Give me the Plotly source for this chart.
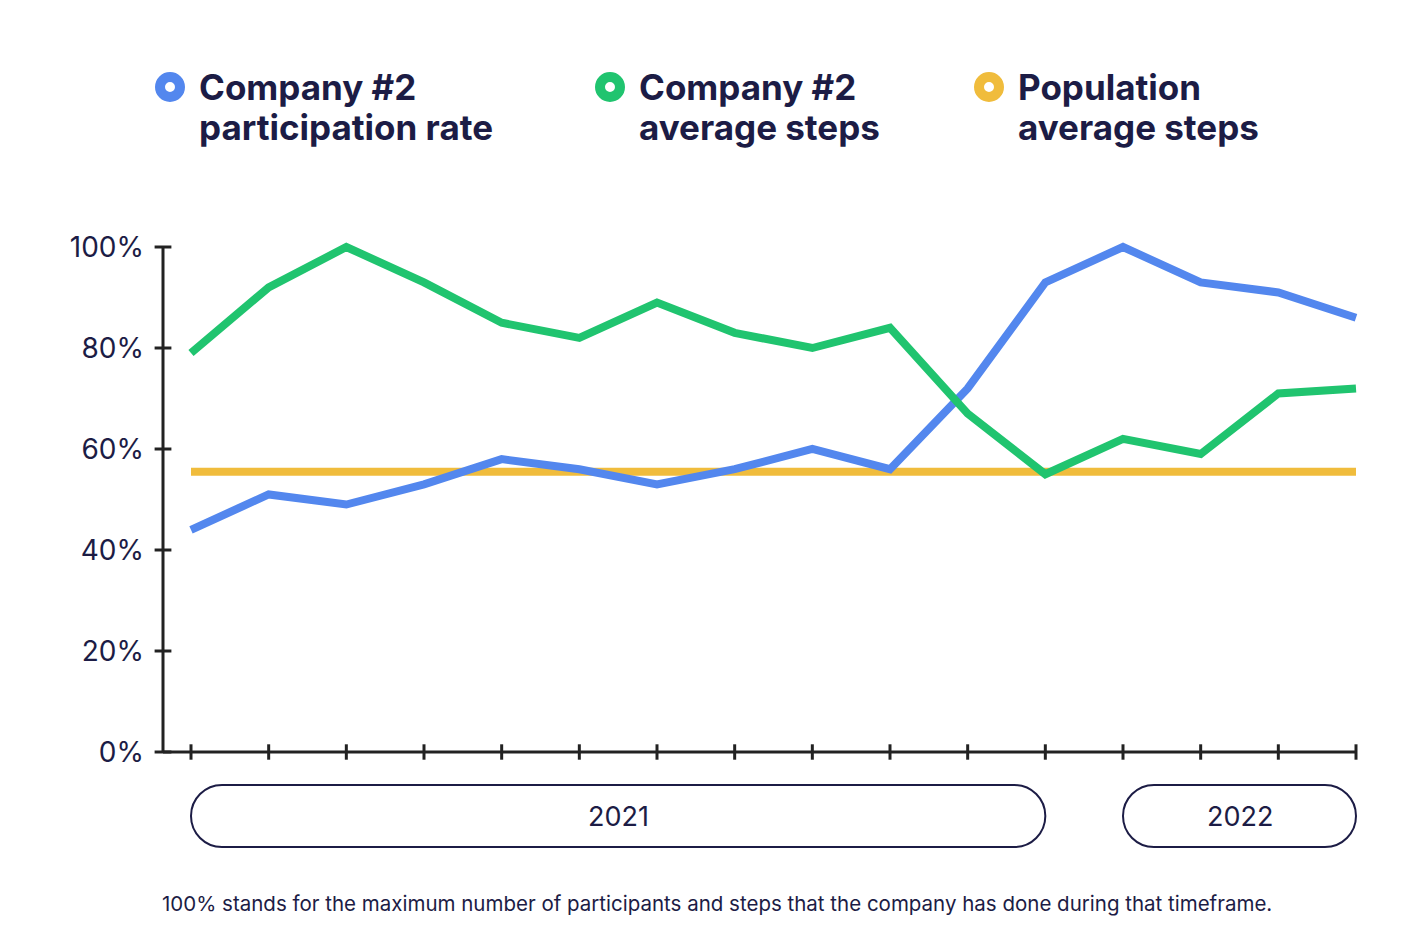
import plotly.graph_objects as go

# ---- data ----
periods = list(range(16))
participation = [44, 51, 49, 53, 58, 56, 53, 56, 60, 56, 72, 93, 100, 93, 91, 86]
company_steps = [79, 92, 100, 93, 85, 82, 89, 83, 80, 84, 67, 55, 62, 59, 71, 72]
population_steps = [55.5] * 16
y_ticks = [0, 20, 40, 60, 80, 100]
y_labels = ["0%", "20%", "40%", "60%", "80%", "100%"]
years = ["2021", "2022"]
year_spans = [(0, 11), (12, 15)]
legend_lines = [("Company #2", "participation rate"), ("Company #2", "average steps"), ("Population", "average steps")]
footer = "100% stands for the maximum number of participants and steps that the company has done during that timeframe."

BLUE = "#5387ee"
GREEN = "#20c46f"
YELLOW = "#f0bc3c"
NAVY = "#1c1c45"
AXIS = "#222222"
FONT = "Inter"

OFF = 8   # page offset
PAD = 12  # extra pixels around the axes so axis lines / pills are not clipped
W, H = 1414 - OFF, 943 - OFF
UX = 77.67          # px per period
UY = 5.05           # px per percent
XAX = 163           # y-axis line (screen px)
X0 = 191            # first period (screen px)
XMIN = (XAX - X0) / UX
XMAX = 15
L = XAX - OFF - PAD
T = 247 - OFF - PAD
R = W - (1356 - OFF + PAD)
B = H - (752 - OFF + PAD)
pw, ph = W - L - R, H - T - B
xr = [XMIN - PAD / UX, XMAX + PAD / UX]
yr = [-PAD / UY, 100 + PAD / UY]

def px_to_paper_x(px):
    return (px - OFF - L) / pw

def py_to_paper_y(py):
    return (H - B - (py - OFF)) / ph

fig = go.Figure()

fig.add_trace(go.Scatter(x=periods, y=population_steps, mode="lines",
                         line=dict(color=YELLOW, width=8), hoverinfo="skip"))
fig.add_trace(go.Scatter(x=periods, y=participation, mode="lines",
                         line=dict(color=BLUE, width=8)))
fig.add_trace(go.Scatter(x=periods, y=company_steps, mode="lines",
                         line=dict(color=GREEN, width=8)))

# crossing tick marks
fig.add_trace(go.Scatter(x=periods, y=[0] * len(periods), mode="markers",
                         marker=dict(symbol="line-ns", size=11, line=dict(color=AXIS, width=3)),
                         cliponaxis=False, hoverinfo="skip"))
fig.add_trace(go.Scatter(x=[XMIN] * len(y_ticks), y=y_ticks, mode="markers",
                         marker=dict(symbol="line-ew", size=12, line=dict(color=AXIS, width=3)),
                         cliponaxis=False, hoverinfo="skip"))

fig.update_layout(
    width=W, height=H,
    margin=dict(l=L, r=R, t=T, b=B),
    paper_bgcolor="white", plot_bgcolor="white",
    showlegend=False,
    font=dict(family=FONT, color=NAVY),
    xaxis=dict(range=xr, showgrid=False, zeroline=False, showticklabels=False,
               showline=False, ticks=""),
    yaxis=dict(range=yr, showgrid=False, zeroline=False,
               tickvals=y_ticks, ticktext=y_labels, ticks="",
               ticklabelstandoff=6,
               tickfont=dict(family=FONT, size=28, color=NAVY),
               showline=False),
)

# axis lines
fig.add_shape(type="line", xref="x", yref="y", x0=XMIN, x1=XMAX, y0=0, y1=0,
              line=dict(color=AXIS, width=3), layer="above")
fig.add_shape(type="line", xref="x", yref="y", x0=XMIN, x1=XMIN, y0=0, y1=100,
              line=dict(color=AXIS, width=3), layer="above")

# year pills
rx = 31 / UX
ry = 31 / ph
yT = py_to_paper_y(785)
yB = py_to_paper_y(847)
yC = (yT + yB) / 2
k = 0.5523
for label, (a, b) in zip(years, year_spans):
    xL, xR = a, b
    path = (f"M {xL+rx},{yT} L {xR-rx},{yT} "
            f"C {xR-rx+k*rx},{yT} {xR},{yC+k*ry} {xR},{yC} "
            f"C {xR},{yC-k*ry} {xR-rx+k*rx},{yB} {xR-rx},{yB} "
            f"L {xL+rx},{yB} "
            f"C {xL+rx-k*rx},{yB} {xL},{yC-k*ry} {xL},{yC} "
            f"C {xL},{yC+k*ry} {xL+rx-k*rx},{yT} {xL+rx},{yT} Z")
    fig.add_shape(type="path", xref="x", yref="paper", path=path,
                  line=dict(color=NAVY, width=2), fillcolor="rgba(0,0,0,0)")
    fig.add_annotation(x=(a + b) / 2, y=yC, xref="x", yref="paper", text=label,
                       showarrow=False, font=dict(family=FONT, size=27, color=NAVY),
                       xanchor="center", yanchor="middle")

# legend
legend_colors = [BLUE, GREEN, YELLOW]
legend_px = [170, 610, 989]
for (l1, l2), col, cx in zip(legend_lines, legend_colors, legend_px):
    fig.add_shape(type="circle", xref="paper", yref="paper",
                  xsizemode="pixel", ysizemode="pixel",
                  xanchor=px_to_paper_x(cx), yanchor=py_to_paper_y(87),
                  x0=-10, x1=10, y0=-10, y1=10,
                  line=dict(color=col, width=10), fillcolor="white")
    for txt, ly in ((l1, 87), (l2, 127)):
        fig.add_annotation(x=px_to_paper_x(cx + 27), y=py_to_paper_y(ly), xref="paper", yref="paper",
                           text=f"<b>{txt}</b>", showarrow=False, align="left",
                           xanchor="left", yanchor="middle",
                           font=dict(family=FONT, size=35, color=NAVY))

fig.add_annotation(x=px_to_paper_x(717), y=py_to_paper_y(904), xref="paper", yref="paper",
                   text=footer, showarrow=False, xanchor="center", yanchor="middle",
                   font=dict(family=FONT, size=20.5, color=NAVY))

fig.write_html("out.html")
